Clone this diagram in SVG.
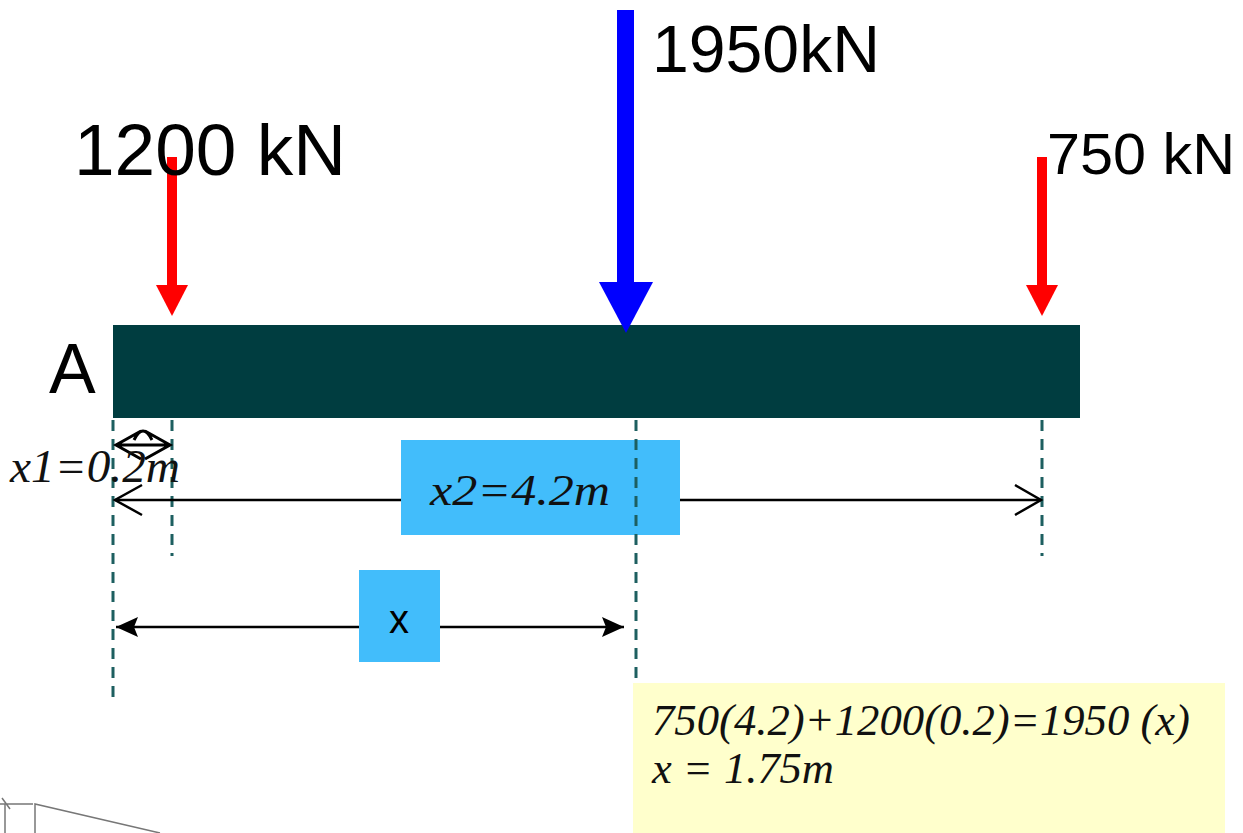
<svg xmlns="http://www.w3.org/2000/svg" width="1243" height="833" viewBox="0 0 1243 833">
<defs>
<style>
.sans{font-family:"Liberation Sans",Arial,sans-serif;fill:#000}
.ital{font-family:"Liberation Serif","Times New Roman",serif;font-style:italic;fill:#111}
.dash{stroke:#1d5f60;stroke-width:3;stroke-dasharray:11 8;fill:none}
.dim{stroke:#000;stroke-width:2.5;fill:none}
.lbl{fill:#42bdfb}
</style>
<marker id="solid" viewBox="0 0 22 20" refX="22" refY="10" markerWidth="22" markerHeight="20" markerUnits="userSpaceOnUse" orient="auto-start-reverse">
<path d="M0,0 L22,10 L0,20 L4,10 Z" fill="#000"/>
</marker>
</defs>
<rect width="1243" height="833" fill="#fff"/>

<g id="sketch" stroke="#777" stroke-width="1.5" fill="none">
<path d="M5,833 V804 M0,804 H33 M2,798 L10,809 M35,833 V804 L160,833"/>
</g>

<g id="beam">
<rect x="113" y="325" width="967" height="93" fill="#003d40"/>
<text class="sans" x="49" y="393" font-size="70">A</text>
</g>

<g id="load1200">
<rect x="167" y="157" width="10" height="130" fill="#ff0000"/>
<path d="M156,285 L188,285 L172,316 Z" fill="#ff0000"/>
<text class="sans" x="74" y="175" font-size="73" textLength="272" lengthAdjust="spacingAndGlyphs">1200 kN</text>
</g>

<g id="load1950">
<rect x="617" y="10" width="17" height="274" fill="#0000ff"/>
<path d="M599,282 L653,282 L626,333 Z" fill="#0000ff"/>
<text class="sans" x="652" y="72" font-size="66" textLength="228" lengthAdjust="spacingAndGlyphs">1950kN</text>
</g>

<g id="load750">
<rect x="1037" y="157" width="10" height="130" fill="#ff0000"/>
<path d="M1026,285 L1058,285 L1042,316 Z" fill="#ff0000"/>
<text class="sans" x="1047" y="174" font-size="58" textLength="188" lengthAdjust="spacingAndGlyphs">750 kN</text>
</g>

<g id="connectors">
<line class="dash" x1="113" y1="420" x2="113" y2="700"/>
<line class="dash" x1="172" y1="420" x2="172" y2="556"/>
<line class="dash" x1="1042" y1="420" x2="1042" y2="556"/>
<line class="dim" x1="115" y1="500" x2="1041" y2="500"/>
<path class="dim" d="M142,485 L115,500 L142,515 M1015,485 L1041,500 L1015,515"/>
<line x1="116" y1="627" x2="624" y2="627" stroke="#000" stroke-width="2.5" marker-start="url(#solid)" marker-end="url(#solid)"/>
<path stroke="#000" stroke-width="3" fill="none" d="M116,445 L170,445 M141,431 L116,445 L141,459 M145,431 L170,445 L145,459 M134,440 Q143,422 152,440"/>
</g>

<g id="x1label">
<text class="ital" x="10" y="482" font-size="46" textLength="170" lengthAdjust="spacingAndGlyphs">x1=0.2m</text>
</g>

<g id="x2label">
<rect class="lbl" x="401" y="440" width="279" height="95"/>
<text class="ital" x="430" y="505" font-size="44" textLength="180" lengthAdjust="spacingAndGlyphs">x2=4.2m</text>
</g>

<g id="xlabel">
<rect class="lbl" x="359" y="570" width="81" height="92"/>
<text class="sans" x="399" y="633" font-size="40" text-anchor="middle">x</text>
</g>

<line class="dash" x1="636" y1="420" x2="636" y2="682"/>

<g id="equation">
<rect x="633" y="683" width="592" height="150" fill="#ffffcc"/>
<text class="ital" x="652" y="735" font-size="44" textLength="538" lengthAdjust="spacingAndGlyphs">750(4.2)+1200(0.2)=1950 (x)</text>
<text class="ital" x="652" y="783" font-size="44" textLength="182" lengthAdjust="spacingAndGlyphs">x = 1.75m</text>
</g>
</svg>
